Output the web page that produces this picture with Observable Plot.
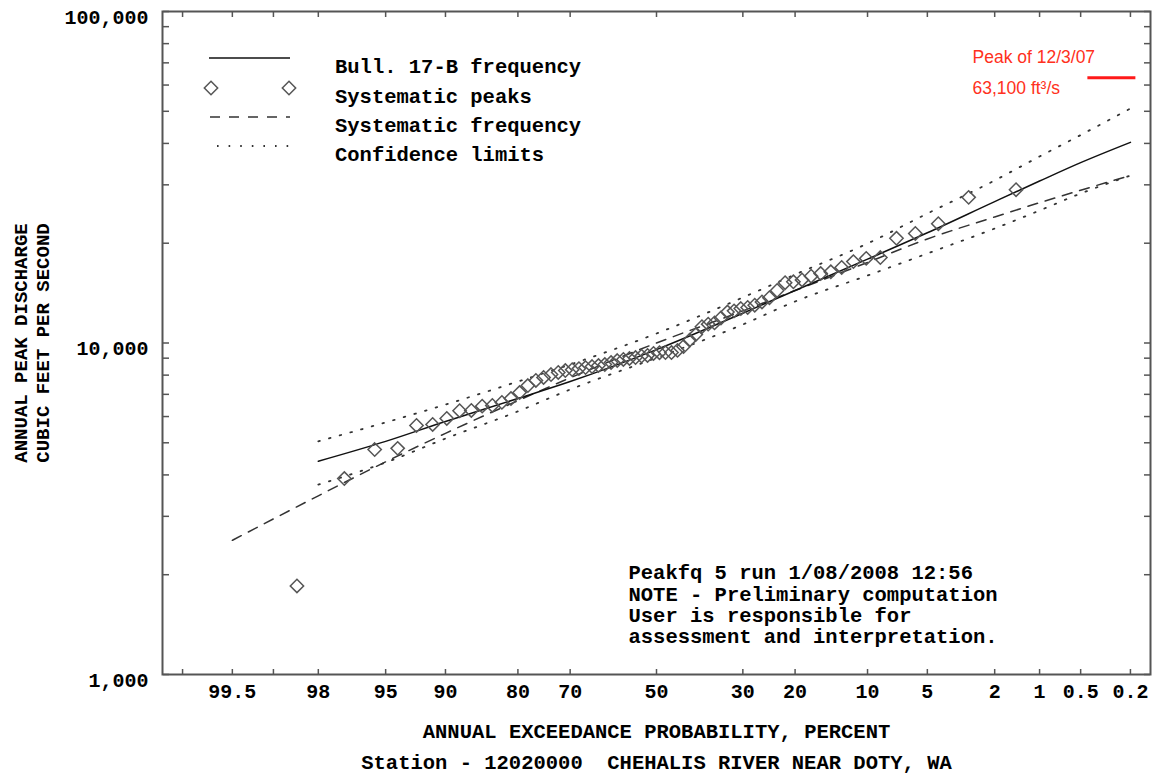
<!DOCTYPE html>
<html><head><meta charset="utf-8">
<script src="https://cdn.jsdelivr.net/npm/d3@7"></script>
<script src="https://cdn.jsdelivr.net/npm/@observablehq/plot@0.6"></script>
<style>
body{margin:0;background:#fff;}
#chart svg{display:block;}
</style>
</head><body><div id="chart"></div>
<script>
// ---------- data ----------
const probTickLabels = [99.5, 98, 95, 90, 80, 70, 50, 30, 20, 10, 5, 2, 1, 0.5, 0.2];
const probMinorTicks = [99.8, 99];
const qTickLabels = [1000, 10000, 100000];
const qMinorTicks = [2000, 3000, 4000, 5000, 6000, 7000, 8000, 9000,
  20000, 30000, 40000, 50000, 60000, 70000, 80000, 90000];

// Bull. 17-B frequency curve
const bullProb = [98, 95, 90, 80, 70, 50, 30, 20, 10, 5, 2, 1, 0.5, 0.2];
const bullQ    = [4400, 5050, 5800, 6800, 7650, 9550, 12300, 14400, 17900, 21500, 26700, 30800, 35000, 40300];

// Systematic frequency curve
const sysProb = [99.5, 98, 95, 90, 80, 70, 50, 30, 20, 10, 5, 2, 1, 0.5, 0.2];
const sysQ    = [2540, 3460, 4380, 5340, 6700, 7850, 10000, 12500, 14400, 17500, 20600, 24000, 26500, 28900, 32000];

// Confidence limits
const ciProb   = [98, 95, 90, 80, 70, 50, 30, 20, 10, 5, 2, 1, 0.5, 0.2];
const ciUpperQ = [5050, 5760, 6520, 7650, 8610, 10680, 13720, 16090, 19960, 24580, 30930, 36530, 42400, 51000];
const ciLowerQ = [3740, 4360, 5150, 6220, 7240, 9020, 11370, 13340, 15980, 18620, 22150, 25100, 28250, 32000];

// Systematic peaks (exceedance probability, percent)
const peakProb = [1.45, 2.90, 4.35, 5.80, 7.25, 8.70, 10.14, 11.59, 13.04, 14.49, 15.94, 17.39, 18.84, 20.29,
  21.74, 23.19, 24.64, 26.09, 27.54, 28.99, 30.43, 31.88, 33.33, 34.78, 36.23, 37.68, 39.13, 40.58, 42.03,
  43.48, 44.93, 46.38, 47.83, 49.28, 50.72, 52.17, 53.62, 55.07, 56.52, 57.97, 59.42, 60.87, 62.32, 63.77,
  65.22, 66.67, 68.12, 69.57, 71.01, 72.46, 73.91, 75.36, 76.81, 78.26, 79.71, 81.16, 82.61, 84.06, 85.51,
  86.96, 88.41, 89.86, 91.30, 92.75, 94.20, 95.65, 97.10, 98.55];
const peakQ = [29000, 27500, 22900, 21400, 20700, 18100, 18000, 17600, 16900, 16400, 16200, 15900, 15500, 15300,
  15200, 14400, 13700, 13300, 13000, 12800, 12700, 12500, 12400, 11900, 11500, 11400, 11200, 10600, 10200,
  9760, 9500, 9360, 9360, 9350, 9300, 9170, 9130, 9040, 8980, 8920, 8850, 8730, 8610, 8550,
  8490, 8430, 8370, 8310, 8260, 8150, 8030, 7870, 7710, 7440, 7090, 6800, 6620, 6480, 6450,
  6260, 6250, 5920, 5680, 5640, 4810, 4770, 3900, 1850];

// Peak of 12/3/07
const peak2007Q = [63100];
const peak2007Span = [0.44, 0.18];

const legendLabels = ["Bull. 17-B frequency", "Systematic peaks", "Systematic frequency", "Confidence limits"];
const noteLines = ["Peakfq 5 run 1/08/2008 12:56", "NOTE - Preliminary computation", "User is responsible for", "assessment and interpretation."];
const xTitle = "ANNUAL EXCEEDANCE PROBABILITY, PERCENT";
const stationTitle = "Station - 12020000  CHEHALIS RIVER NEAR DOTY, WA";
const yTitle1 = "ANNUAL PEAK DISCHARGE";
const yTitle2 = "CUBIC FEET PER SECOND";

// ---------- probability-scale helper (inverse normal CDF, Acklam) ----------
function probit(p) {
  const a = [-3.969683028665376e+01, 2.209460984245205e+02, -2.759285104469687e+02, 1.383577518672690e+02, -3.066479806614716e+01, 2.506628277459239e+00];
  const b = [-5.447609879822406e+01, 1.615858368580409e+02, -1.556989798598866e+02, 6.680131188771972e+01, -1.328068155288572e+01];
  const c = [-7.784894002430293e-03, -3.223964580411365e-01, -2.400758277161838e+00, -2.549732539343734e+00, 4.374664141464968e+00, 2.938163982698783e+00];
  const d = [7.784695709041462e-03, 3.224671290700398e-01, 2.445134137142996e+00, 3.754408661907416e+00];
  const pl = 0.02425, ph = 1 - pl;
  let q, r;
  if (p < pl) {
    q = Math.sqrt(-2 * Math.log(p));
    return (((((c[0]*q+c[1])*q+c[2])*q+c[3])*q+c[4])*q+c[5]) / ((((d[0]*q+d[1])*q+d[2])*q+d[3])*q+1);
  }
  if (p <= ph) {
    q = p - 0.5; r = q * q;
    return (((((a[0]*r+a[1])*r+a[2])*r+a[3])*r+a[4])*r+a[5])*q / (((((b[0]*r+b[1])*r+b[2])*r+b[3])*r+b[4])*r+1);
  }
  q = Math.sqrt(-2 * Math.log(1 - p));
  return -(((((c[0]*q+c[1])*q+c[2])*q+c[3])*q+c[4])*q+c[5]) / ((((d[0]*q+d[1])*q+d[2])*q+d[3])*q+1);
}
const zOf = pct => probit(1 - pct / 100);

// ---------- tables ----------
const bull = bullProb.map((p, i) => ({p, q: bullQ[i]}));
const sys = sysProb.map((p, i) => ({p, q: sysQ[i]}));
const ciU = ciProb.map((p, i) => ({p, q: ciUpperQ[i]}));
const ciL = ciProb.map((p, i) => ({p, q: ciLowerQ[i]}));
const peaks = peakProb.map((p, i) => ({p, q: peakQ[i]}));

const xLabelZ = probTickLabels.map(zOf);
const xAllTickZ = probTickLabels.concat(probMinorTicks).map(zOf);
const yAllTicks = qTickLabels.concat(qMinorTicks);
const labelForZ = z => {
  let best = 0;
  xLabelZ.forEach((v, i) => { if (Math.abs(v - z) < Math.abs(xLabelZ[best] - z)) best = i; });
  return String(probTickLabels[best]);
};

const MONO = "'Liberation Mono', 'DejaVu Sans Mono', monospace";
const SANS = "'Liberation Sans', Arial, sans-serif";
const GRAY = "#555";
const RED = "#ff3020";

function legendMark(index, scales, values, dims) {
  const g = d3.create("svg:g");
  const x0 = dims.marginLeft, y0 = dims.marginTop;
  const rowY = [47, 77, 106, 135];
  // solid
  g.append("line").attr("x1", x0 + 47).attr("x2", x0 + 128).attr("y1", y0 + rowY[0]).attr("y2", y0 + rowY[0])
    .attr("stroke", "#111").attr("stroke-width", 1.5);
  // diamonds
  const sym = d3.symbol(d3.symbolDiamond2, Math.PI * 36);
  [49, 127].forEach(dx => g.append("path").attr("d", sym())
    .attr("transform", `translate(${x0 + dx},${y0 + rowY[1]})`)
    .attr("fill", "none").attr("stroke", GRAY).attr("stroke-width", 1.5));
  // dashed
  g.append("line").attr("x1", x0 + 48).attr("x2", x0 + 128).attr("y1", y0 + rowY[2]).attr("y2", y0 + rowY[2])
    .attr("stroke", "#333").attr("stroke-width", 1.5).attr("stroke-dasharray", "10,9");
  // dotted
  g.append("line").attr("x1", x0 + 55).attr("x2", x0 + 130).attr("y1", y0 + rowY[3]).attr("y2", y0 + rowY[3])
    .attr("stroke", "#333").attr("stroke-width", 1.8).attr("stroke-dasharray", "1.6,10");
  legendLabels.forEach((t, i) => g.append("text").text(t)
    .attr("x", x0 + 173).attr("y", y0 + rowY[i] + 8).attr("dy", "0.33em")
    .attr("text-anchor", "start")
    .attr("font-family", MONO).attr("font-size", 20.5).attr("font-weight", "bold").attr("fill", "#000"));
  return g.node();
}

const chart = Plot.plot({
  width: 1154,
  height: 774,
  marginLeft: 162,
  marginRight: 4,
  marginTop: 11,
  marginBottom: 100,
  x: {type: "linear", domain: [-3, 3]},
  y: {type: "log", domain: [1000, 100000]},
  style: {fontFamily: MONO, fontSize: "20px", fontWeight: "bold", color: "#000", background: "#fff"},
  marks: [
    // axis tick labels
    Plot.axisY(qTickLabels, {anchor: "left", tickSize: 0, tickPadding: 14, dy: 6,
      tickFormat: d3.format(","), label: null, fontSize: 20}),
    Plot.axisX(xLabelZ, {anchor: "bottom", tickSize: 0, tickPadding: 9,
      tickFormat: labelForZ, label: null, fontSize: 20}),
    // inward ticks
    Plot.axisY(yAllTicks, {anchor: "right", frameAnchor: "left", tickSize: 6, tickFormat: () => "", label: null, stroke: GRAY, strokeWidth: 1.5}),
    Plot.axisY(yAllTicks, {anchor: "left", frameAnchor: "right", tickSize: 6, tickFormat: () => "", label: null, stroke: GRAY, strokeWidth: 1.5}),
    Plot.axisX(xAllTickZ, {anchor: "top", frameAnchor: "bottom", tickSize: 6, tickFormat: () => "", label: null, stroke: GRAY, strokeWidth: 1.5}),
    Plot.axisX(xAllTickZ, {anchor: "bottom", frameAnchor: "top", tickSize: 6, tickFormat: () => "", label: null, stroke: GRAY, strokeWidth: 1.5}),
    Plot.frame({stroke: GRAY, strokeWidth: 2}),
    // curves
    Plot.line(ciU, {x: d => zOf(d.p), y: "q", stroke: "#333", strokeWidth: 1.8, strokeDasharray: "1.6,9.5", curve: "monotone-x"}),
    Plot.line(ciL, {x: d => zOf(d.p), y: "q", stroke: "#333", strokeWidth: 1.8, strokeDasharray: "1.6,9.5", curve: "monotone-x"}),
    Plot.line(sys, {x: d => zOf(d.p), y: "q", stroke: "#333", strokeWidth: 1.5, strokeDasharray: "10,8", curve: "monotone-x"}),
    Plot.line(bull, {x: d => zOf(d.p), y: "q", stroke: "#111", strokeWidth: 1.5, curve: "monotone-x"}),
    Plot.dot(peaks, {x: d => zOf(d.p), y: "q", symbol: "diamond2", r: 6, stroke: GRAY, strokeWidth: 1.5, fill: "none"}),
    // 2007 peak
    Plot.ruleY(peak2007Q, {x1: zOf(peak2007Span[0]), x2: zOf(peak2007Span[1]), stroke: "#ff1a1a", strokeWidth: 3}),
    Plot.text(["Peak of 12/3/07"], {frameAnchor: "top-right", dx: -178, dy: 46, textAnchor: "start", lineAnchor: "middle",
      fill: RED, fontFamily: SANS, fontWeight: "normal", fontSize: 17.5}),
    Plot.text(["63,100 ft\u00b3/s"], {frameAnchor: "top-right", dx: -178, dy: 77, textAnchor: "start", lineAnchor: "middle",
      fill: RED, fontFamily: SANS, fontWeight: "normal", fontSize: 17.5}),
    // note
    Plot.text([noteLines.join("\n")], {frameAnchor: "top-left", dx: 466, dy: 593, textAnchor: "start",
      lineAnchor: "middle", lineHeight: 1.04, fontSize: 20.5, fill: "#000"}),
    // titles
    Plot.text([xTitle], {frameAnchor: "bottom", dy: 57, lineAnchor: "middle", textAnchor: "middle", fontSize: 20.5, fill: "#000"}),
    Plot.text([stationTitle], {frameAnchor: "bottom", dy: 88, lineAnchor: "middle", textAnchor: "middle", fontSize: 20.5, fill: "#000"}),
    Plot.text([yTitle1], {frameAnchor: "left", dx: -142, rotate: -90, textAnchor: "middle", lineAnchor: "middle", fontSize: 19, fill: "#000"}),
    Plot.text([yTitle2], {frameAnchor: "left", dx: -120, rotate: -90, textAnchor: "middle", lineAnchor: "middle", fontSize: 19, fill: "#000"}),
    legendMark
  ]
});
document.getElementById("chart").appendChild(chart);
</script>
</body></html>
